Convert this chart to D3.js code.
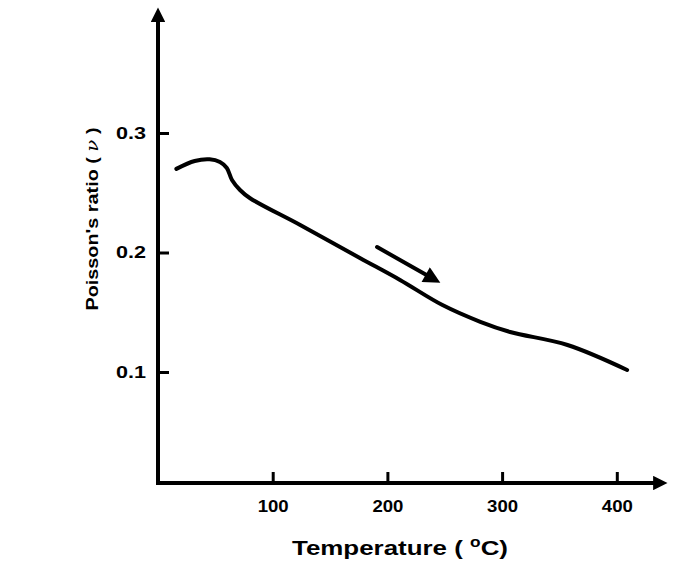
<!DOCTYPE html>
<html><head><meta charset="utf-8">
<script src="https://cdn.jsdelivr.net/npm/d3@7"></script>
<style>
html,body{margin:0;padding:0;background:#fff;}
svg{display:block;}
</style></head>
<body>
<svg id="chart" width="700" height="564"></svg>
<script>
// Data
const temperature = [16, 32, 45, 54, 60, 64.5, 71.5, 80, 124, 176, 211, 248, 281, 307, 357, 409];
const poisson = [0.270, 0.2766, 0.278, 0.2757, 0.2707, 0.2607, 0.2523, 0.2456, 0.223, 0.1954, 0.177, 0.156, 0.142, 0.1335, 0.1226, 0.1017];
const xTicks = [100, 200, 300, 400];
const yTicks = [0.1, 0.2, 0.3];
const yTickLabels = ["0.1", "0.2", "0.3"];
const arrowT = [191, 248];
const arrowV = [0.2046, 0.1736];

const svg = d3.select("#chart");
const x = d3.scaleLinear().domain([0, 100]).range([158, 272.7]);
const y = d3.scaleLinear().domain([0.1, 0.3]).range([372, 133]);
const axisY0 = 483, axisX0 = 158;
const FONT = "'Liberation Sans', Arial, sans-serif";

// arrow markers
const defs = svg.append("defs");
defs.append("marker").attr("id","axhead").attr("viewBox","0 0 10 10")
  .attr("refX",2).attr("refY",5).attr("markerWidth",4.6).attr("markerHeight",3.6)
  .attr("markerUnits","strokeWidth").attr("orient","auto")
  .append("path").attr("d","M0,0 L10,5 L0,10 Z").attr("fill","#000");
defs.append("marker").attr("id","dirhead").attr("viewBox","0 0 10 10")
  .attr("refX",6).attr("refY",5).attr("markerWidth",5).attr("markerHeight",4.2)
  .attr("markerUnits","strokeWidth").attr("orient","auto")
  .append("path").attr("d","M0,0 L10,5 L0,10 Z").attr("fill","#000");

// axes lines with arrows
svg.append("line").attr("x1",axisX0).attr("y1",axisY0).attr("x2",656).attr("y2",axisY0)
  .attr("stroke","#000").attr("stroke-width",4).attr("marker-end","url(#axhead)");
svg.append("line").attr("x1",axisX0).attr("y1",axisY0+2).attr("x2",axisX0).attr("y2",19)
  .attr("stroke","#000").attr("stroke-width",4).attr("marker-end","url(#axhead)");

// x axis ticks
const gx = svg.append("g").attr("transform",`translate(0,${axisY0})`)
  .call(d3.axisBottom(x).tickValues(xTicks).tickSize(-11).tickPadding(17).tickFormat(d3.format("d")));
gx.select(".domain").remove();
gx.selectAll(".tick line").attr("stroke","#000").attr("stroke-width",3);
gx.selectAll(".tick text").attr("fill","#000").style("font-family",FONT)
  .style("font-size","17px").style("font-weight","bold")
  .attr("textLength",31).attr("lengthAdjust","spacingAndGlyphs");

// y axis ticks
const gy = svg.append("g").attr("transform",`translate(${axisX0},0)`)
  .call(d3.axisLeft(y).tickValues(yTicks).tickSize(-11).tickPadding(12).tickFormat((d,i)=>yTickLabels[i]));
gy.select(".domain").remove();
gy.selectAll(".tick line").attr("stroke","#000").attr("stroke-width",3);
gy.selectAll(".tick text").attr("fill","#000").style("font-family",FONT)
  .style("font-size","17px").style("font-weight","bold")
  .attr("textLength",30).attr("lengthAdjust","spacingAndGlyphs");

// curve
const line = d3.line().x((d,i)=>x(temperature[i])).y((d,i)=>y(poisson[i])).curve(d3.curveCatmullRom.alpha(0.5));
svg.append("path").datum(temperature).attr("d",line).attr("fill","none")
  .attr("stroke","#000").attr("stroke-width",4).attr("stroke-linecap","round").attr("stroke-linejoin","round");

// direction arrow
svg.append("line").attr("x1",x(arrowT[0])).attr("y1",y(arrowV[0]))
  .attr("x2",x(arrowT[1])-8).attr("y2",y(arrowV[1])-4.5)
  .attr("stroke","#000").attr("stroke-width",4).attr("stroke-linecap","round")
  .attr("marker-end","url(#dirhead)");

// axis titles
const xt = svg.append("text").attr("x",400).attr("y",555).attr("text-anchor","middle")
  .style("font-family",FONT).style("font-size","21px").style("font-weight","bold").attr("fill","#000")
  .attr("textLength",216).attr("lengthAdjust","spacingAndGlyphs");
xt.append("tspan").text("Temperature ( ");
xt.append("tspan").text("o").attr("dy",-8).style("font-size","14px");
xt.append("tspan").text("C)").attr("dy",8);

const yt = svg.append("text").attr("transform","translate(98,219) rotate(-90)").attr("text-anchor","middle")
  .style("font-family",FONT).style("font-size","17px").style("font-weight","bold").attr("fill","#000")
  .attr("textLength",183).attr("lengthAdjust","spacingAndGlyphs");
yt.append("tspan").text("Poisson's ratio ( ");
yt.append("tspan").text("ν").style("font-family","'DejaVu Serif', serif").style("font-style","italic").style("font-weight","normal");
yt.append("tspan").text(" )");
</script>
</body></html>
